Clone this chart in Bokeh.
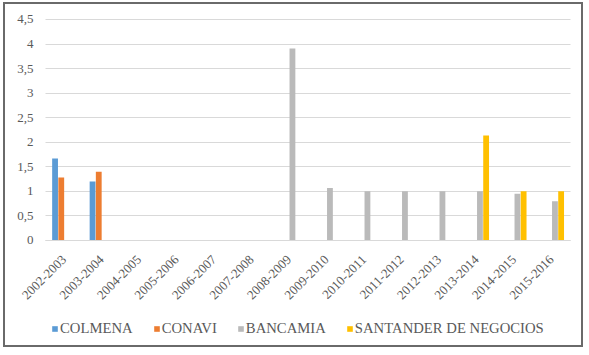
from bokeh.plotting import figure
from bokeh.models import ColumnDataSource, FixedTicker, Legend, LegendItem, Range1d
from bokeh.transform import dodge
from bokeh.embed import file_html
from bokeh.resources import INLINE

periods = ["2002-2003", "2003-2004", "2004-2005", "2005-2006", "2006-2007",
           "2007-2008", "2008-2009", "2009-2010", "2010-2011", "2011-2012",
           "2012-2013", "2013-2014", "2014-2015", "2015-2016"]
colmena = [1.67, 1.20, 0, 0, 0, 0, 0, 0, 0, 0, 0, 0, 0, 0]
conavi = [1.28, 1.40, 0, 0, 0, 0, 0, 0, 0, 0, 0, 0, 0, 0]
bancamia = [0, 0, 0, 0, 0, 0, 3.91, 1.07, 1.0, 1.0, 1.0, 1.0, 0.95, 0.80]
santander = [0, 0, 0, 0, 0, 0, 0, 0, 0, 0, 0, 2.14, 1.0, 1.0]
series_names = ["COLMENA", "CONAVI", "BANCAMIA", "SANTANDER DE NEGOCIOS"]
series_colors = ["#5B9BD5", "#ED7D31", "#BABABA", "#FFC000"]
y_ticks = [0, 0.5, 1, 1.5, 2, 2.5, 3, 3.5, 4, 4.5]
y_tick_labels = ["0", "0,5", "1", "1,5", "2", "2,5", "3", "3,5", "4", "4,5"]

idx = list(range(len(periods)))
src = ColumnDataSource(dict(idx=idx, period=periods, s0=colmena, s1=conavi,
                            s2=bancamia, s3=santander))

FONT = "Liberation Serif"
n = len(periods)

# frame covers the whole chart box; room for labels/legend via range extent
p = figure(x_range=Range1d(-1.5667, n - 0.1), y_range=Range1d(-2.22, 4.805),
           width=580, height=345,
           output_backend="svg", toolbar_location=None,
           min_border_left=0, min_border_right=0, min_border_top=0,
           min_border_bottom=0)
p.styles = {"margin-left": "3px", "margin-top": "2px",
            "border": "2px solid #6a6a6a"}

offsets = [-0.245, -0.08, 0.085, 0.25]
width = 0.155
renderers = []
for i, color in enumerate(series_colors):
    r = p.vbar(x=dodge("idx", offsets[i]), top="s%d" % i,
               width=width, source=src, fill_color=color, line_color=None)
    renderers.append(r)

p.outline_line_color = None
p.xgrid.grid_line_color = None
p.ygrid.grid_line_color = "#D9D9D9"
p.ygrid.grid_line_width = 1
p.ygrid.cross_bounds = (-0.5, n - 0.5)

p.yaxis.ticker = FixedTicker(ticks=y_ticks)
p.yaxis.major_label_overrides = {t: l for t, l in zip(y_ticks, y_tick_labels)}
p.yaxis.fixed_location = -0.5
p.yaxis.axis_line_color = None
p.yaxis.major_tick_line_color = None
p.yaxis.minor_tick_line_color = None
p.yaxis.major_label_standoff = 6

p.xaxis.ticker = FixedTicker(ticks=idx)
p.xaxis.major_label_overrides = {i: s for i, s in zip(idx, periods)}
p.xaxis.fixed_location = 0
p.xaxis.bounds = (-0.5, n - 0.5)
p.xaxis.axis_line_color = "#D9D9D9"
p.xaxis.major_tick_line_color = None
p.xaxis.minor_tick_line_color = None
p.xaxis.major_label_orientation = 0.785398
p.xaxis.major_label_standoff = 11

for ax in (p.xaxis[0], p.yaxis[0]):
    ax.major_label_text_font = FONT
    ax.major_label_text_font_size = "13px"
    ax.major_label_text_color = "#595959"

legend = Legend(items=[LegendItem(label=s, renderers=[r])
                       for s, r in zip(series_names, renderers)],
                orientation="horizontal", location=(46, 12),
                label_text_font=FONT, label_text_font_size="14.7px",
                label_text_color="#595959", glyph_width=7, glyph_height=7,
                label_height=16, label_standoff=2, spacing=20, padding=0,
                margin=0, border_line_color=None, background_fill_alpha=0)
p.add_layout(legend, "center")

open("out.html", "w").write(file_html(p, INLINE))
